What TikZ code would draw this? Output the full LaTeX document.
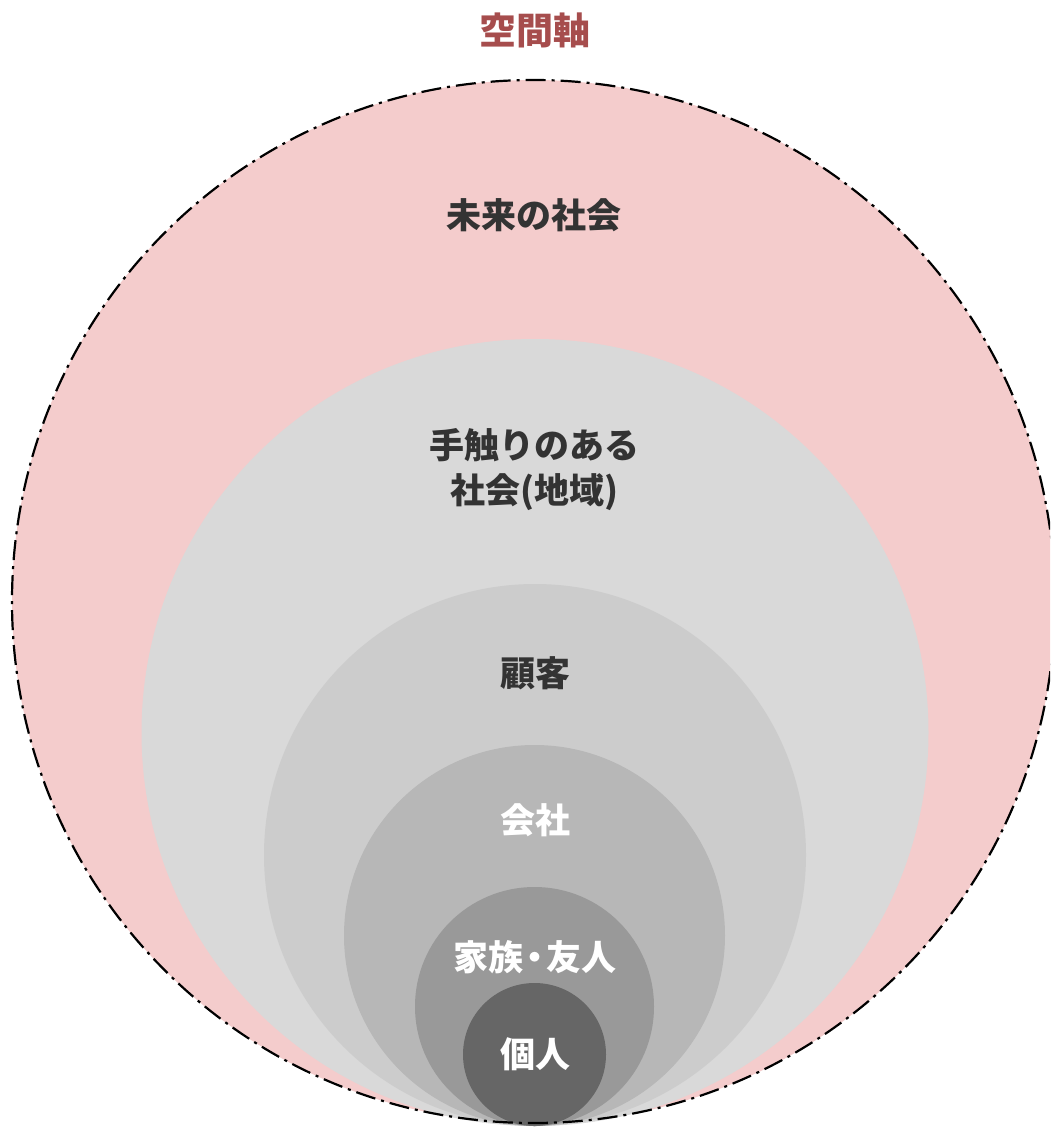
\documentclass[tikz,border=0pt]{standalone}
\usepackage{fontspec}
\newfontfamily\cjk{Noto Sans CJK JP}
\definecolor{outerpink}{HTML}{F4CCCC}
\definecolor{ringA}{HTML}{D9D9D9}
\definecolor{ringB}{HTML}{CCCCCC}
\definecolor{ringC}{HTML}{B7B7B7}
\definecolor{ringD}{HTML}{999999}
\definecolor{ringE}{HTML}{666666}
\definecolor{titlered}{HTML}{A64D4D}
\definecolor{darktext}{HTML}{333333}
\tikzset{
  lbl/.style={font=\cjk\bfseries\fontsize{35}{45}\selectfont, align=center, inner sep=0pt},
  darklbl/.style={lbl, text=darktext},
  lightlbl/.style={lbl, text=white},
}
\begin{document}
\begin{tikzpicture}[x=1pt,y=-1pt]
\useasboundingbox (0,0) rectangle (1050,1127);
\clip (0,0) rectangle (1050,1127);
\fill[outerpink] (533.5,601.5) circle[radius=521.5];
\fill[ringA] (535,732.5) circle[radius=393.5];
\fill[ringB] (535,855) circle[radius=271];
\fill[ringC] (534.5,935.5) circle[radius=190.5];
\fill[ringD] (534.5,1006.5) circle[radius=119.5];
\fill[ringE] (534.5,1054.5) circle[radius=71.5];
\draw[line width=2.2pt, dash pattern=on 20pt off 6pt on 3pt off 6pt] (533.5,601.5) circle[radius=521.5];
\node[lbl, text=titlered, font=\cjk\bfseries\fontsize{37}{40}\selectfont] (title) at (535,30) {空間軸};
\node[darklbl] (future) at (534,215) {未来の社会};
\node[darklbl] (local) at (534,469.5) {手触りのある\\社会(地域)};
\node[darklbl] (client) at (535,673) {顧客};
\node[lightlbl] (company) at (535,820) {会社};
\node[lightlbl] (family) at (535,957) {家族\hspace{-6pt}・\hspace{-6pt}友人};
\node[lightlbl] (self) at (535,1054) {個人};
\end{tikzpicture}
\end{document}
